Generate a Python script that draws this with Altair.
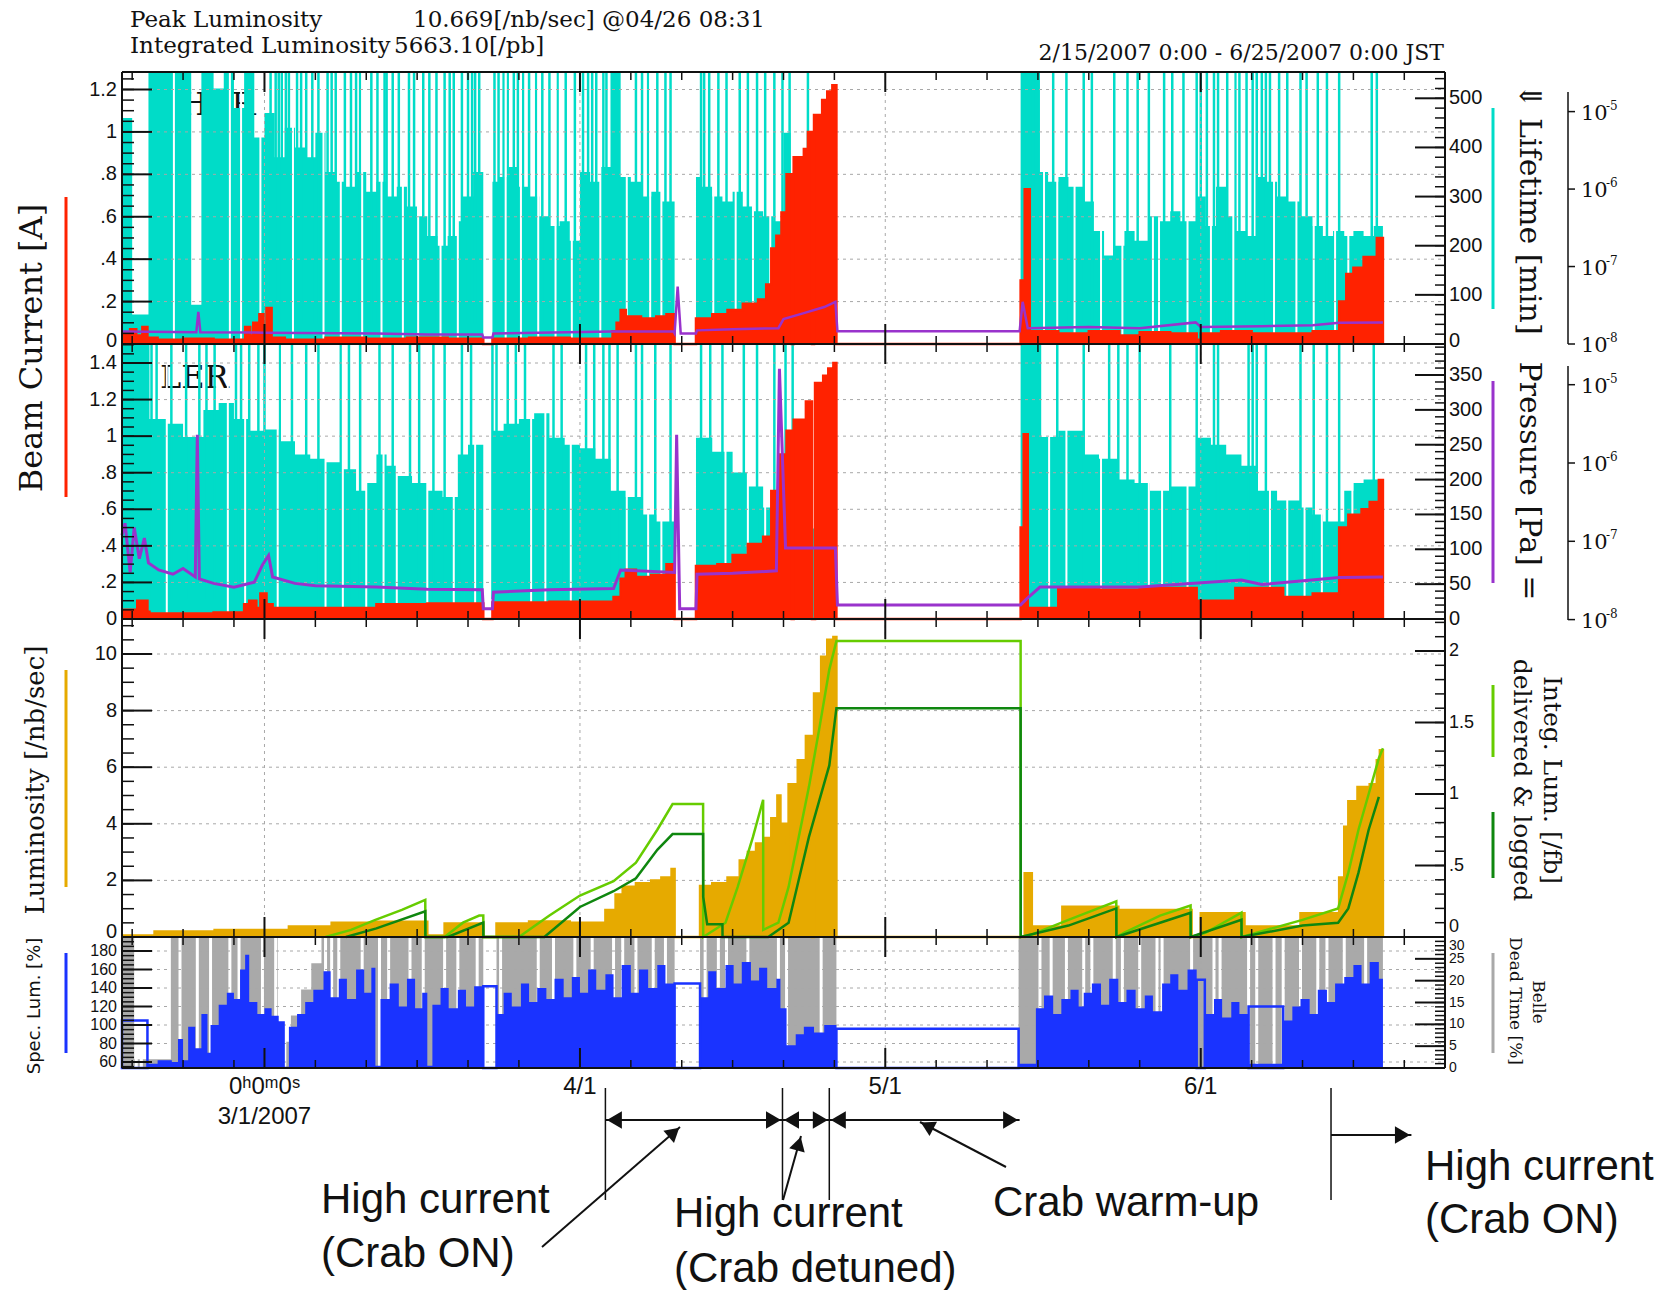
import math
import altair as alt
import pandas as pd

# ============================ data ============================
# time axis: days after 2007-02-15 0:00 JST
T_RANGE = [0, 130]
MONTH_DAYS = [14, 45, 75, 106]
MONTH_LABELS = ["0ʰ0ᵐ0ˢ", "4/1", "5/1", "6/1"]
FIRST_DATE_LABEL = "3/1/2007"
TICK_DAYS = [1, 6, 11, 19, 24, 29, 34, 39, 50, 55, 60, 65, 70, 80, 85, 90, 95,
             100, 111, 116, 121, 126]

# --- HER: lifetime [min] (envelope, spikes to top, beam-off gaps), current [A], pressure [Pa]
HER_LIFETIME = [(0, 460), (1.0, 60), (2.6, 600), (6.8, 80), (7.8, 600), (9, 520), (10, 600),
    (11, 480), (12, 600), (13, 420), (14, 470), (15, 380), (16, 440), (17, 400), (18, 380),
    (19, 430), (20, 350), (21, 330), (22, 320), (23, 350), (24, 310), (25, 330), (26, 300),
    (27, 320), (28, 280), (29, 260), (30, 220), (31, 200), (32, 220), (33, 250), (33.5, 300),
    (34.5, 350), (35.5, 0), (36.4, 330), (37, 340), (38, 360), (39, 320), (40, 300), (41, 260),
    (42, 240), (43, 250), (44, 210), (45, 350), (46, 330), (47, 360), (48, 560), (49, 340),
    (50, 330), (51, 300), (52, 310), (53, 290), (54.3, 0), (56.4, 340), (57, 320), (58, 300),
    (59, 290), (60, 310), (61, 280), (62, 270), (63, 260), (64, 250), (65, 430), (65.7, 260),
    (66.5, 270), (67.9, 230), (69, 210), (70.2, 0), (88.3, 600), (90.2, 350), (91, 330),
    (92, 340), (93, 320), (94.5, 290), (95.5, 230), (96.5, 180), (97.5, 200), (98.5, 230),
    (99.5, 210), (100.9, 260), (102, 250), (103, 270), (104, 250), (105.6, 300), (106.5, 240),
    (107.5, 320), (108.5, 260), (109.5, 230), (110.5, 220), (111.5, 340), (112.5, 330),
    (113.5, 300), (114.5, 290), (115.8, 260), (117, 240), (118, 220), (119, 230), (120.1, 220),
    (121, 230), (122, 220), (123, 240), (123.9, 0)]
HER_SPIKES = [14.6, 15.1, 15.4, 15.7, 16.1, 16.4, 17.2, 17.6, 18.1, 18.7, 19.3, 20.2, 20.6, 21.0,
    21.9, 22.5, 23.0, 23.4, 24.5, 25.1, 25.8, 26.0, 26.6, 27.2, 28.2, 28.7, 29.6, 30.2, 30.9,
    31.7, 32.2, 32.6, 33.4, 34.0, 34.4, 34.7, 35.1, 36.6, 37.0, 37.5, 37.9, 38.5, 38.9, 39.4,
    40.0, 40.7, 41.3, 42.0, 42.8, 43.6, 44.5, 45.3, 45.8, 46.2, 46.6, 47.3, 47.6, 48.4, 48.8,
    50.5, 51.1, 51.7, 52.6, 53.4, 53.9, 56.9, 57.2, 57.7, 58.6, 59.4, 60.7, 61.5, 62.4, 63.2,
    64.1, 64.9, 65.6, 67.4, 88.9, 89.5, 91.5, 92.8, 94.5, 95.3, 97.5, 98.8, 99.8, 100.9, 102.4,
    103.2, 104.3, 105.6, 106.0, 106.6, 107.3, 107.7, 108.6, 109.4, 109.8, 110.5, 111.1, 111.5,
    112.0, 112.4, 112.8, 113.7, 114.5, 115.8, 116.4, 117.5, 118.4, 119.6, 122.8, 123.3]
HER_GAPS = [5.1, 10.6, 11.7, 13.6, 16.8, 19.8, 21.5, 23.6, 25.5, 27.6, 29.1, 31.3, 33.0, 37.7,
    39.2, 40.9, 42.6, 44.2, 47.0, 49.6, 51.9, 53.0, 58.1, 60.3, 62.0, 63.7, 65.9, 66.8, 90.6,
    91.9, 93.6, 96.2, 98.3, 101.3, 101.9, 104.7, 107.0, 109.2, 113.2, 115.4, 117.1, 119.2, 120.5]
HER_CURRENT = [(0, 0.05), (0.8, 0.07), (1.4, 0.04), (2.0, 0.08), (2.5, 0.03), (3.5, 0.02),
    (6, 0.025), (9, 0.02), (12.1, 0.08), (12.6, 0.04), (12.9, 0.1), (13.3, 0.05), (13.5, 0.14),
    (13.9, 0.05), (14.2, 0.17), (14.7, 0.03), (16, 0.02), (20, 0.03), (24, 0.025), (28, 0.03),
    (32, 0.025), (35.5, 0), (36.4, 0.025), (40, 0.03), (44, 0.025), (48.2, 0.06), (48.6, 0.1),
    (49.0, 0.16), (49.5, 0.13), (51, 0.12), (52.5, 0.13), (53.5, 0.14), (54.3, 0), (56.4, 0.12),
    (58, 0.14), (59.5, 0.16), (61, 0.19), (62.5, 0.21), (63.3, 0.28), (63.8, 0.45), (64.3, 0.51),
    (64.8, 0.62), (65.3, 0.8), (65.8, 0.0), (66.0, 0.88), (67.0, 0.92), (67.4, 1.0), (67.8, 0.0),
    (68.0, 1.08), (68.8, 1.15), (69.3, 1.19), (69.8, 1.22), (70.2, 0), (88.3, 0.3), (88.7, 0.73),
    (89.2, 0.06), (92, 0.05), (95, 0.06), (98, 0.04), (100, 0.055), (103, 0.05), (105.6, 0.02),
    (106, 0.05), (108, 0.06), (111, 0.05), (114, 0.05), (117, 0.06), (119.6, 0.2), (120.3, 0.33),
    (121, 0.36), (122, 0.41), (123.3, 0.5), (123.9, 0)]
HER_PRESSURE = [(0, 1.45e-8), (7.3, 1.42e-8), (7.5, 2.6e-8), (7.7, 1.42e-8), (14, 1.4e-8),
    (25, 1.37e-8), (30, 1.33e-8), (35.4, 1.33e-8), (35.5, 1.21e-8), (36.4, 1.21e-8),
    (36.5, 1.37e-8), (48.2, 1.45e-8), (54.2, 1.45e-8), (54.3, 1.37e-8), (54.6, 5.5e-8),
    (54.9, 1.37e-8), (56.4, 1.37e-8), (56.5, 1.5e-8), (60, 1.55e-8), (64.5, 1.6e-8),
    (65, 2.1e-8), (67, 2.5e-8), (69, 3.0e-8), (70.1, 3.5e-8), (70.3, 1.46e-8), (88.2, 1.46e-8),
    (88.5, 3.5e-8), (89, 1.6e-8), (95, 1.66e-8), (100, 1.6e-8), (105.5, 1.9e-8), (106, 1.66e-8),
    (112, 1.7e-8), (117, 1.75e-8), (119.6, 1.88e-8), (123.9, 1.9e-8)]

# --- LER
LER_LIFETIME = [(0, 420), (2.7, 287), (4.4, 280), (6, 261), (8, 300), (9.5, 310), (11, 287),
    (12.5, 270), (14, 272), (15.5, 255), (17, 236), (18.5, 230), (20, 225), (21.5, 215),
    (23, 184), (24, 195), (25, 236), (26, 220), (27, 205), (28.5, 195), (30, 184), (31.5, 175),
    (33, 236), (34, 250), (35.5, 0), (36.4, 270), (37.5, 280), (39, 287), (40.5, 295), (42, 260),
    (43.5, 250), (45, 245), (46.5, 230), (48, 184), (49.5, 175), (51, 150), (52.5, 140),
    (54.3, 0), (56.4, 260), (58, 240), (60, 210), (61.5, 190), (63, 160), (64.7, 150), (66, 184),
    (67.5, 130), (69, 110), (70.2, 0), (88.3, 420), (90.2, 261), (92, 270), (94.5, 236),
    (96, 230), (97.9, 200), (99.5, 195), (101, 184), (103, 190), (105.6, 260), (107, 250),
    (108.5, 236), (110, 220), (111.5, 184), (113.5, 170), (115.8, 160), (117, 150), (118, 140),
    (120.1, 184), (121, 195), (122, 200), (123.9, 0)]
LER_SPIKES = [2.9, 3.4, 4.85, 6.3, 7.6, 8.3, 9.1, 11.2, 11.7, 12.5, 13.4, 14.0, 15.5, 16.7, 18.1,
    19.3, 21.5, 22.3, 23.4, 25.3, 26.6, 28.3, 29.2, 30.6, 31.7, 33.4, 34.3, 36.4, 36.8, 37.9,
    38.7, 39.6, 42.4, 43.2, 45.6, 46.4, 47.3, 47.9, 48.7, 50.5, 51.1, 52.4, 53.9, 56.9, 57.8,
    59.0, 61.1, 62.4, 64.1, 65.2, 65.9, 88.5, 89.4, 90.2, 91.9, 94.5, 97.0, 97.9, 98.8, 100.0,
    103.0, 105.6, 107.3, 107.7, 110.7, 111.1, 111.5, 112.4, 115.8, 117.1, 118.4, 119.6, 123.0]
LER_GAPS = [4.4, 10.4, 12.1, 15.3, 20.0, 21.7, 24.0, 25.7, 27.0, 30.0, 32.6, 34.7, 40.2, 41.6,
    44.1, 49.6, 51.7, 53.0, 59.3, 61.5, 63.2, 91.1, 92.8, 96.2, 100.9, 102.2, 104.7, 112.8,
    114.5, 116.2, 117.9, 120.9]
LER_CURRENT = [(0, 0.05), (1.5, 0.1), (2.5, 0.04), (2.7, 0.03), (6, 0.03), (9, 0.035),
    (12, 0.08), (12.5, 0.1), (13.2, 0.06), (13.6, 0.14), (14.2, 0.08), (14.8, 0.06), (20, 0.06),
    (25, 0.08), (30, 0.085), (35.5, 0), (36.4, 0.09), (42, 0.095), (48.3, 0.12), (49, 0.22),
    (49.5, 0.27), (50.5, 0.23), (52, 0.24), (53.5, 0.3), (54.3, 0), (56.4, 0.29), (58.5, 0.3),
    (60, 0.35), (61.5, 0.41), (63, 0.45), (63.8, 0.7), (64.5, 0.9), (65.3, 1.03), (65.8, 0.0),
    (66.0, 1.09), (67.2, 1.19), (67.8, 0.0), (68.1, 1.29), (68.9, 1.33), (69.4, 1.37),
    (69.9, 1.4), (70.2, 0), (88.3, 0.5), (88.6, 1.01), (89.0, 0.06), (92, 0.17), (96, 0.16),
    (100, 0.17), (103, 0.17), (105.6, 0.1), (109.4, 0.17), (114.1, 0.12), (117, 0.14),
    (119.6, 0.5), (120.5, 0.57), (121.8, 0.6), (122.6, 0.64), (123.5, 0.76), (123.9, 0)]
LER_PRESSURE = [(0, 1.2e-7), (0.3, 1.7e-7), (0.8, 4e-8), (1.2, 1.5e-7), (1.7, 6e-8),
    (2.2, 1.1e-7), (2.6, 5.3e-8), (3.6, 4.3e-8), (5, 3.8e-8), (6, 4.5e-8), (7.2, 3.5e-8),
    (7.4, 2.3e-6), (7.6, 3.3e-8), (9, 2.9e-8), (11, 2.6e-8), (13, 3e-8), (13.8, 5e-8),
    (14.4, 6.6e-8), (14.8, 3.5e-8), (17, 2.9e-8), (19, 2.7e-8), (25, 2.6e-8), (30, 2.45e-8),
    (35.4, 2.4e-8), (35.5, 1.38e-8), (36.4, 1.38e-8), (36.5, 2.24e-8), (42, 2.4e-8),
    (48.3, 2.5e-8), (49, 4.3e-8), (54.3, 4e-8), (54.5, 2.3e-6), (54.8, 1.38e-8), (56.4, 1.38e-8),
    (56.5, 3.8e-8), (60, 3.9e-8), (64.3, 4.2e-8), (64.6, 1.6e-5), (65.2, 8.2e-8), (70.1, 8.2e-8),
    (70.3, 1.54e-8), (88.3, 1.54e-8), (89, 1.9e-8), (90.2, 2.6e-8), (100, 2.6e-8),
    (110, 3.2e-8), (112, 2.8e-8), (119.6, 3.45e-8), (123.9, 3.5e-8)]

# --- luminosity [/nb/sec] and integrated luminosity [/fb]
LUMINOSITY = [(0, 0.05), (3.2, 0.19), (9.1, 0.25), (16.4, 0.37), (20.6, 0.5), (24.9, 0.54),
    (30, 0.05), (31.7, 0.48), (35.5, 0), (36.8, 0.48), (40, 0.55), (44, 0.5), (47.5, 0.95),
    (48.5, 1.5), (49.2, 1.78), (50.5, 1.9), (52, 2.0), (53, 2.1), (54, 2.4), (54.3, 0),
    (56.8, 1.8), (58, 1.9), (59.5, 2.1), (60.7, 2.7), (61.5, 3.0), (62.3, 3.3), (63.2, 3.5),
    (63.8, 4.2), (64.4, 5.0), (64.7, 4.0), (65.3, 0), (65.5, 5.4), (66.4, 6.25), (67.2, 7.1),
    (67.8, 0), (68.0, 8.6), (68.7, 9.9), (69.3, 10.5), (69.9, 10.6), (70.2, 0), (88.7, 2.25),
    (89.4, 0.37), (92.4, 1.07), (97.9, 0.95), (105.1, 0), (106, 0.84), (110.3, 0.37),
    (115.8, 0.84), (119.6, 2.1), (120.1, 3.9), (120.5, 4.8), (121.4, 5.3), (122.6, 5.4),
    (123.3, 6.25), (123.6, 6.6), (123.9, 0)]
LUM_DELIVERED = [(20.0, 0.0), (22.5, 0.05), (24.9, 0.12), (27.5, 0.19), (29.8, 0.26),
    (29.81, 0.0), (31.7, 0.0), (33.5, 0.1), (35.1, 0.15), (35.5, 0.15), (35.51, 0.0), (39.0, 0.0),
    (42, 0.15), (45, 0.29), (48.3, 0.39), (50.5, 0.52), (52.6, 0.75), (54.1, 0.93), (57.1, 0.93),
    (57.11, 0.0), (59.3, 0.1), (60.5, 0.35), (62.0, 0.7), (63.0, 0.96), (63.01, 0.05),
    (64.5, 0.1), (65.5, 0.35), (66.5, 0.7), (67.5, 1.05), (68.5, 1.45), (69.5, 1.87),
    (70.2, 2.07), (88.3, 2.07), (88.31, 0.0), (89.5, 0.02), (93, 0.12), (97.7, 0.25),
    (97.71, 0.0), (98.5, 0.03), (102, 0.15), (105, 0.22), (105.01, 0.0), (106.5, 0.03),
    (110, 0.17), (110.01, 0.0), (111, 0.02), (116, 0.12), (119.5, 0.2), (120.5, 0.45),
    (121.5, 0.75), (122.5, 1.0), (123.5, 1.25), (123.9, 1.32)]
LUM_LOGGED = [(22.0, 0.0), (25, 0.06), (29.8, 0.18), (29.81, 0.0), (32, 0.0), (35.5, 0.1),
    (35.51, 0), (41.5, 0.0), (45, 0.21), (48.3, 0.32), (50.5, 0.41), (52.6, 0.61), (54.1, 0.72),
    (57.1, 0.72), (57.11, 0.28), (57.5, 0.09), (59, 0.09), (59.01, 0.0), (63.5, 0.0), (65.5, 0.1),
    (66.5, 0.4), (67.5, 0.7), (68.5, 0.95), (69.5, 1.2), (70.2, 1.6), (88.3, 1.6), (88.31, 0.0),
    (93, 0.08), (97.7, 0.2), (97.71, 0.0), (102, 0.1), (105, 0.17), (105.01, 0), (110, 0.12),
    (110.01, 0), (116, 0.08), (119.5, 0.1), (120.5, 0.2), (121.5, 0.45), (122.5, 0.75),
    (123.5, 0.98)]

# --- specific luminosity [%] and Belle dead time [%]
SPEC_LUM = [(0, 53.5), (2.5, 58), (3.5, 62), (4.9, 60), (5.5, 85), (6.0, 62), (6.5, 98),
    (7.2, 75), (7.8, 112), (8.4, 70), (8.7, 100), (9.5, 122), (10.3, 135), (11.0, 128),
    (11.6, 160), (12.1, 176), (12.5, 125), (13.3, 112), (14.0, 118), (14.7, 110), (15.4, 104),
    (16.0, 55), (16.4, 98), (17.2, 112), (18.0, 125), (18.8, 138), (19.8, 158), (20.5, 130),
    (21.3, 150), (22.1, 128), (23.0, 160), (23.8, 135), (24.5, 162), (24.9, 56), (25.4, 128),
    (26.3, 145), (27.2, 120), (28.0, 150), (28.8, 118), (29.5, 135), (30.0, 56), (30.5, 122),
    (31.3, 140), (32.1, 118), (33.0, 138), (33.8, 120), (34.6, 142), (35.5, 53.5), (36.8, 112),
    (37.5, 135), (38.3, 120), (39.2, 145), (40.0, 125), (40.8, 140), (41.7, 128), (42.5, 150),
    (43.4, 130), (44.2, 152), (45.0, 135), (45.8, 160), (46.6, 138), (47.5, 155), (48.3, 130),
    (49.1, 165), (50.0, 135), (50.8, 160), (51.7, 140), (52.6, 165), (53.4, 145), (54.3, 53.5),
    (56.8, 130), (57.6, 158), (58.4, 140), (59.3, 165), (60.1, 145), (60.9, 168), (61.8, 148),
    (62.6, 162), (63.4, 140), (64.3, 150), (64.7, 118), (65.3, 78), (66.2, 90), (67.0, 98),
    (68.0, 92), (69.0, 100), (70.2, 53.5), (88.1, 58), (89.8, 118), (90.6, 132), (91.5, 112),
    (92.3, 128), (93.2, 138), (94.0, 120), (94.5, 135), (95.3, 145), (96.2, 122), (97.0, 150),
    (97.9, 125), (98.7, 138), (99.6, 118), (100.5, 132), (101.3, 115), (102.2, 145),
    (103.0, 155), (103.8, 138), (104.7, 160), (105.6, 53.5), (106.4, 112), (107.3, 128),
    (108.1, 108), (109.0, 125), (109.8, 112), (110.7, 58), (114.1, 105), (115.0, 120),
    (115.8, 128), (116.7, 112), (117.5, 138), (118.4, 125), (119.2, 145), (120.1, 152),
    (121.0, 165), (121.8, 145), (122.6, 168), (123.5, 150), (123.9, 53.5)]
SPEC_LUM_HOLD = [(0.0, 2.5, 105), (35.5, 36.8, 142), (54.3, 56.8, 145), (70.2, 88.1, 96),
    (105.6, 106.4, 149), (110.7, 114.1, 120)]
DEAD_TIME = [(0, 30), (1.2, 2), (4.8, 30), (15.3, 6), (16.6, 12), (17.6, 18), (18.6, 24),
    (19.6, 30), (35.5, 0), (36.8, 30), (54.3, 0), (56.8, 30), (70.2, 0), (88.1, 30), (123.9, 0)]
DEAD_GAPS = [1.4, 1.9, 5.7, 7.4, 8.7, 10.6, 11.5, 13.8, 15.1, 16.0, 20.0, 20.6, 21.3, 23.6, 25.3,
    26.2, 28.3, 29.6, 31.7, 33.0, 34.9, 37.2, 40.9, 42.4, 44.5, 46.2, 48.3, 49.2, 50.5, 52.2,
    53.4, 57.3, 58.6, 59.4, 61.5, 64.5, 65.3, 68.7, 90.2, 91.3, 92.8, 94.5, 95.3, 97.5, 98.3,
    100.0, 101.7, 102.2, 105.1, 107.3, 107.9, 110.7, 111.5, 113.2, 114.1, 115.8, 117.5, 118.4,
    120.1, 122.2]

# --- annotated periods (days)
PERIOD_BOUNDS = [47.5, 64.9, 69.5, 88.2]
LATE_HIGH_CURRENT = [118.8, 126.7]

# axis ticks
HER_A_TICKS, HER_A_LABELS = [0, 0.2, 0.4, 0.6, 0.8, 1.0, 1.2], ["0", ".2", ".4", ".6", ".8", "1", "1.2"]
LER_A_TICKS, LER_A_LABELS = [0, 0.2, 0.4, 0.6, 0.8, 1.0, 1.2, 1.4], ["0", ".2", ".4", ".6", ".8", "1", "1.2", "1.4"]
LUM_TICKS = [0, 2, 4, 6, 8, 10]
SPEC_TICKS = [60, 80, 100, 120, 140, 160, 180]
HER_L_TICKS = [0, 100, 200, 300, 400, 500]
LER_L_TICKS = [0, 50, 100, 150, 200, 250, 300, 350]
INT_TICKS, INT_LABELS = [0, 0.5, 1, 1.5, 2], ["0", ".5", "1", "1.5", "2"]
DT_TICKS = [0, 5, 10, 15, 20, 25, 30]
LOG_TICKS, LOG_EXP = [1e-8, 1e-7, 1e-6, 1e-5], ["-8", "-7", "-6", "-5"]

# ============================ style ============================
INK = "#111111"
CYAN, RED, PURPLE, ORANGE = "#00DCC8", "#FF2200", "#9933CC", "#E6AA00"
LGREEN, DGREEN, BLUE, GRAY = "#66CC00", "#0F870F", "#1A33FF", "#A9A9A9"
GRID = "#A8A8A8"
SERIF = "DejaVu Serif"
SANS = "Liberation Sans"
NARROW = "Liberation Sans Narrow, Liberation Sans, Arial, sans-serif"

X0, X1 = 122, 1445
HER_T, HER_B = 72, 344
LER_T, LER_B = 344, 619
LUM_T, LUM_B = 619, 937
SP_T, SP_B = 937, 1068

XS = alt.Scale(domain=T_RANGE, range=[X0, X1], nice=False, zero=False)


def X(field="t"):
    return alt.X(f"{field}:Q", scale=XS, axis=None)


def S(domain, rng, typ="linear", clamp=False):
    return alt.Scale(type=typ, domain=domain, range=rng, nice=False, zero=False, clamp=clamp)


sc_her_A = S([0, 1.2], [HER_B, 89.5])
sc_her_L = S([0, 553.5], [HER_B, HER_T], clamp=True)
sc_her_P = S([1e-8, 1e-5], [HER_B, 111.6], "log")
sc_ler_A = S([0, 1.4], [LER_B, 363])
sc_ler_L = S([0, 394.5], [LER_B, LER_T], clamp=True)
sc_ler_P = S([1e-8, 1e-5], [619.6, 384.7], "log")
sc_lum = S([0, 10], [LUM_B, 654])
sc_int = S([0, 2], [LUM_B, 651])
sc_spec = S([60, 180], [1062, 951])
sc_dt = S([0, 30], [SP_B, SP_T])

ONE = pd.DataFrame({"a": [0]})
layers = []


def Y(sc):
    return alt.Y("v:Q", scale=sc, axis=None, stack=None)


def area(pairs, sc, base, color, line=None, width=2):
    kw = dict(color=color, interpolate="step-after", opacity=1)
    if line:
        kw["line"] = alt.OverlayMarkDef(color=line, strokeWidth=width, interpolate="step-after")
    return alt.Chart(pd.DataFrame(pairs, columns=["t", "v"])).mark_area(**kw).encode(
        x=X(), y=Y(sc), y2=alt.value(base))


def line(pairs, sc, color, width):
    return alt.Chart(pd.DataFrame(pairs, columns=["t", "v"])).mark_line(
        color=color, strokeWidth=width, interpolate="linear").encode(x=X(), y=Y(sc))


def vrules(days, y0, y1, color, width, dash=None):
    kw = dict(color=color, strokeWidth=width)
    if dash:
        kw["strokeDash"] = dash
    return alt.Chart(pd.DataFrame({"t": days})).mark_rule(**kw).encode(
        x=X(), y=alt.value(y0), y2=alt.value(y1))


def hrules(vals, sc, x0, x1, color=INK, width=1.5, dash=None):
    kw = dict(color=color, strokeWidth=width)
    if dash:
        kw["strokeDash"] = dash
    return alt.Chart(pd.DataFrame({"v": vals})).mark_rule(**kw).encode(
        y=Y(sc), x=alt.value(x0), x2=alt.value(x1))


def ylabels(vals, labels, sc, x, align, size, font, dy=0):
    return alt.Chart(pd.DataFrame({"v": vals, "lab": labels})).mark_text(
        align=align, baseline="middle", fontSize=size, font=font, color=INK, dy=dy).encode(
        y=Y(sc), x=alt.value(x), text="lab:N")


def text(s, x, y, size, font, align="left", baseline="alphabetic", angle=0):
    return alt.Chart(ONE).mark_text(text=s, align=align, baseline=baseline, fontSize=size,
                                    font=font, angle=angle, color=INK).encode(
        x=alt.value(x), y=alt.value(y))


def seg(x0, y0, x1, y1, color=INK, width=2):
    return alt.Chart(ONE).mark_rule(color=color, strokeWidth=width).encode(
        x=alt.value(x0), y=alt.value(y0), x2=alt.value(x1), y2=alt.value(y1))


def pointer(x0, y0, x1, y1):
    ang = math.degrees(math.atan2(x1 - x0, -(y1 - y0))) % 360
    r = 8
    cx = x1 - r * math.sin(math.radians(ang))
    cy = y1 + r * math.cos(math.radians(ang))
    head = alt.Chart(ONE).mark_point(shape="triangle-up", angle=ang, filled=True, size=260,
                                     color=INK, opacity=1).encode(x=alt.value(cx), y=alt.value(cy))
    return [seg(x0, y0, x1, y1, INK, 2), head]


# ---------- panel name labels (under the lifetime fill)
layers.append(text("HER", 180, 115, 32, SERIF))
layers.append(text("LER", 160, 388, 32, SERIF))

# ---------- lifetime fills
layers.append(area(HER_LIFETIME, sc_her_L, HER_B, CYAN))
layers.append(vrules(HER_SPIKES, HER_T, HER_B - 20, CYAN, 2.5))
layers.append(area(LER_LIFETIME, sc_ler_L, LER_B, CYAN))
layers.append(vrules(LER_SPIKES, LER_T, LER_B - 20, CYAN, 2.5))
layers.append(vrules(HER_GAPS, HER_T, HER_B, "white", 2))
layers.append(vrules(LER_GAPS, LER_T, LER_B, "white", 2))

# ---------- dead time
layers.append(area(DEAD_TIME, sc_dt, SP_B, GRAY))
layers.append(vrules(DEAD_GAPS, SP_T, SP_B, "white", 3))

# ---------- grid
layers.append(hrules(HER_A_TICKS[1:], sc_her_A, X0, X1, GRID, 1, [3, 4]))
layers.append(hrules(LER_A_TICKS[1:], sc_ler_A, X0, X1, GRID, 1, [3, 4]))
layers.append(hrules(LUM_TICKS[1:], sc_lum, X0, X1, GRID, 1, [3, 4]))
layers.append(hrules(SPEC_TICKS, sc_spec, X0, X1, GRID, 1, [3, 4]))
layers.append(vrules(MONTH_DAYS, HER_T, SP_B, GRID, 1, [3, 4]))

# ---------- currents and pressures
layers.append(area(HER_CURRENT, sc_her_A, HER_B, RED, RED, 2.5))
layers.append(area(LER_CURRENT, sc_ler_A, LER_B, RED, RED, 2.5))
layers.append(line(HER_PRESSURE, sc_her_P, PURPLE, 2.5))
layers.append(line(LER_PRESSURE, sc_ler_P, PURPLE, 3))

# ---------- luminosity
layers.append(area(LUMINOSITY, sc_lum, LUM_B, ORANGE, ORANGE, 2.5))
layers.append(line(LUM_DELIVERED, sc_int, LGREEN, 2.5))
layers.append(line(LUM_LOGGED, sc_int, DGREEN, 2.5))

# ---------- specific luminosity
layers.append(area(SPEC_LUM, sc_spec, SP_B, BLUE))
layers.append(alt.Chart(pd.DataFrame(SPEC_LUM_HOLD, columns=["t0", "t1", "v"])).mark_rect(
    fillOpacity=0, stroke=BLUE, strokeWidth=2.5).encode(
    x=X("t0"), x2="t1:Q", y=Y(sc_spec), y2=alt.value(SP_B)))

# ---------- frame
for yy in [HER_T, HER_B, LER_B, LUM_B, SP_B]:
    layers.append(seg(X0, yy, X1, yy, INK, 2))
layers.append(seg(X0, HER_T, X0, SP_B, INK, 2))
layers.append(seg(X1, HER_T, X1, SP_B, INK, 2))

# x ticks on every panel edge, pointing inwards
for edge, d in [(HER_T, 1), (HER_B, -1), (LER_T, 1), (LER_B, -1), (LUM_T, 1), (LUM_B, -1),
                (SP_T, 1), (SP_B, -1)]:
    layers.append(vrules(TICK_DAYS, edge, edge + d * 8, INK, 1.5))
    layers.append(vrules(MONTH_DAYS, edge, edge + d * 20, INK, 2))


def left_axis(ticks, labels, minors, sc, size, first_dy=0):
    return [hrules(minors, sc, X0, X0 + 12, INK, 1.5),
            hrules(ticks, sc, X0, X0 + 30, INK, 2),
            ylabels(ticks[1:], labels[1:], sc, 117, "right", size, NARROW),
            ylabels(ticks[:1], labels[:1], sc, 117, "right", size, NARROW, dy=first_dy)]


def right_axis(ticks, labels, minors, sc, size, first_dy=0, last_dy=0):
    return [hrules(minors, sc, X1 - 10, X1, INK, 1.5),
            hrules(ticks, sc, X1 - 30, X1, INK, 2),
            ylabels(ticks[1:-1], labels[1:-1], sc, 1449, "left", size, NARROW),
            ylabels(ticks[:1], labels[:1], sc, 1449, "left", size, NARROW, dy=first_dy),
            ylabels(ticks[-1:], labels[-1:], sc, 1449, "left", size, NARROW, dy=last_dy)]


layers += left_axis(HER_A_TICKS, HER_A_LABELS, [round(i * 0.05, 2) for i in range(26)], sc_her_A, 20, -3)
layers += left_axis(LER_A_TICKS, LER_A_LABELS, [round(i * 0.05, 2) for i in range(31)], sc_ler_A, 20)
layers += left_axis(LUM_TICKS, [str(v) for v in LUM_TICKS], [i * 0.5 for i in range(23)], sc_lum, 20, -5)
layers += left_axis(SPEC_TICKS, [str(v) for v in SPEC_TICKS], list(range(55, 196, 5)), sc_spec, 16)
layers += right_axis(HER_L_TICKS, [str(v) for v in HER_L_TICKS], list(range(0, 541, 20)), sc_her_L, 20, -3)
layers += right_axis(LER_L_TICKS, [str(v) for v in LER_L_TICKS], list(range(0, 391, 10)), sc_ler_L, 20)
layers += right_axis(INT_TICKS, INT_LABELS, [round(i * 0.1, 1) for i in range(23)], sc_int, 18, -10)
layers += right_axis(DT_TICKS, [str(v) for v in DT_TICKS], list(range(0, 31)), sc_dt, 14, 0, 9)

# far-right log pressure axes
for sc, top, bot in [(sc_her_P, 92, HER_B), (sc_ler_P, 366, 620)]:
    layers.append(seg(1568, top, 1568, bot, INK, 1.5))
    layers.append(hrules(LOG_TICKS, sc, 1568, 1575, INK, 1.5))
    layers.append(ylabels(LOG_TICKS, ["10"] * 4, sc, 1581, "left", 21, SERIF, dy=2))
    layers.append(ylabels(LOG_TICKS, LOG_EXP, sc, 1606, "left", 12, SERIF, dy=-6))

# x labels
layers.append(alt.Chart(pd.DataFrame({"t": MONTH_DAYS, "lab": MONTH_LABELS})).mark_text(
    baseline="middle", align="center", fontSize=24, font=NARROW, color=INK).encode(
    x=X(), y=alt.value(1087), text="lab:N"))
layers.append(alt.Chart(pd.DataFrame({"t": MONTH_DAYS[:1], "lab": [FIRST_DATE_LABEL]})).mark_text(
    baseline="middle", align="center", fontSize=24, font=NARROW, color=INK).encode(
    x=X(), y=alt.value(1117), text="lab:N"))

# ---------- titles & colour keys
layers.append(text("Beam Current [A]", 32, 348, 32, SERIF, "center", "middle", 270))
layers.append(text("Luminosity [/nb/sec]", 36, 780, 26, SERIF, "center", "middle", 270))
layers.append(text("Spec. Lum. [%]", 35, 1006, 18, "DejaVu Sans", "center", "middle", 270))
layers.append(text("⇓ Lifetime [min]", 1529, 209, 30, SERIF, "center", "middle", 90))
layers.append(text("Pressure [Pa] =", 1529, 481, 30, SERIF, "center", "middle", 90))
layers.append(text("Integ. Lum. [/fb]", 1552, 780, 25, SERIF, "center", "middle", 90))
layers.append(text("delivered & logged", 1522, 780, 25, SERIF, "center", "middle", 90))
layers.append(text("Belle", 1538, 1002, 17, SERIF, "center", "middle", 90))
layers.append(text("Dead Time [%]", 1515, 1001, 17, SERIF, "center", "middle", 90))
for x, y0, y1, c in [(66, 197, 497, RED), (66, 670, 887, ORANGE), (66, 953, 1053, BLUE),
                     (1493, 108, 309, CYAN), (1493, 381, 583, PURPLE), (1493, 685, 757, LGREEN),
                     (1493, 812, 878, DGREEN), (1493, 953, 1053, GRAY)]:
    layers.append(seg(x, y0, x, y1, c, 3))

# header
layers.append(text("Peak Luminosity", 130, 27, 23, SERIF))
layers.append(text("10.669[/nb/sec] @04/26 08:31", 413, 27, 23, SERIF))
layers.append(text("Integrated Luminosity", 130, 53, 23, SERIF))
layers.append(text("5663.10[/pb]", 394, 53, 23, SERIF))
layers.append(text("2/15/2007 0:00 - 6/25/2007 0:00 JST", 1444, 60, 22, SERIF, "right"))

# ---------- period annotations
layers.append(vrules(PERIOD_BOUNDS[:3] + LATE_HIGH_CURRENT[:1], 1088, 1200, INK, 1.5))
spans = pd.DataFrame({"t0": PERIOD_BOUNDS[:-1], "t1": PERIOD_BOUNDS[1:]})
layers.append(alt.Chart(spans).mark_rule(color=INK, strokeWidth=2).encode(
    x=X("t0"), x2="t1:Q", y=alt.value(1120)))
layers.append(alt.Chart(pd.DataFrame({"t0": LATE_HIGH_CURRENT[:1], "t1": LATE_HIGH_CURRENT[1:]}))
              .mark_rule(color=INK, strokeWidth=2).encode(x=X("t0"), x2="t1:Q", y=alt.value(1135)))


def heads(days, y, shape, xoff):
    return alt.Chart(pd.DataFrame({"t": days})).mark_point(
        shape=shape, filled=True, size=300, color=INK, opacity=1, xOffset=xoff).encode(
        x=X(), y=alt.value(y))


layers.append(heads(PERIOD_BOUNDS[:-1], 1120, "triangle-left", 9))
layers.append(heads(PERIOD_BOUNDS[1:], 1120, "triangle-right", -9))
layers.append(heads(LATE_HIGH_CURRENT[1:], 1135, "triangle-right", -9))
layers += pointer(542, 1247, 680, 1127)
layers += pointer(783, 1200, 801, 1136)
layers += pointer(1006, 1167, 920, 1122)

layers.append(text("High current", 321, 1213, 42, SANS))
layers.append(text("(Crab ON)", 321, 1267, 42, SANS))
layers.append(text("High current", 674, 1227, 42, SANS))
layers.append(text("(Crab detuned)", 674, 1282, 42, SANS))
layers.append(text("Crab warm-up", 993, 1216, 42, SANS))
layers.append(text("High current", 1425, 1180, 42, SANS))
layers.append(text("(Crab ON)", 1425, 1233, 42, SANS))

chart = alt.layer(*layers).resolve_scale(y="independent").properties(
    width=1670, height=1290, autosize=alt.AutoSizeParams(type="none"), padding=0,
    background="white").configure_view(strokeWidth=0)

chart.save("out.html", embed_options={"renderer": "svg", "actions": False})
